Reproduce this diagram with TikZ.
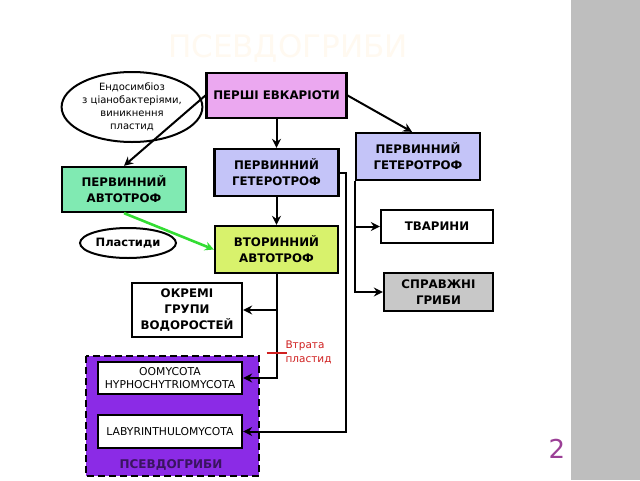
\documentclass[tikz,border=0pt]{standalone}
\usepackage{fontspec}
\setmainfont{DejaVu Sans}
\usetikzlibrary{shapes}
\usetikzlibrary{arrows.meta}
\definecolor{orchidpink}{HTML}{EBA8F0}
\definecolor{mintgreen}{HTML}{80EAB2}
\definecolor{lavender}{HTML}{C4C4F8}
\definecolor{limeyellow}{HTML}{D8F26C}
\definecolor{fungigray}{HTML}{C8C8C8}
\definecolor{pseudoviolet}{HTML}{8B2BE6}
\definecolor{darkplum}{HTML}{3A1460}
\definecolor{lossred}{HTML}{D02020}
\definecolor{slidenum}{HTML}{9B3F96}
\definecolor{titlecream}{HTML}{FFF9F0}
\definecolor{plastidgreen}{HTML}{33DD33}
\definecolor{stripgray}{HTML}{BEBEBE}

\begin{document}
\begin{tikzpicture}[x=1pt, y=-1pt,
    box/.style={draw, line width=2.3pt, align=center, inner sep=0pt,
        font=\fontsize{11.8}{16}\selectfont\bfseries},
    oval/.style={draw, ellipse, line width=2pt, align=center, inner sep=0pt},
    arr/.style={-{Stealth[length=9pt, width=9pt, inset=3pt]}, line width=2pt},
    taxon/.style={draw, fill=white, line width=2.3pt, minimum width=144pt,
        inner sep=0pt, align=center, font=\fontsize{10.8}{13}\selectfont}]

        \useasboundingbox (0,0) rectangle (640,480);

        % slide background
        \fill[white] (0,0) rectangle (640,480);
        \fill[stripgray] (571,0) rectangle (640,480);
        \node (title) at (288,48) {\fontsize{31}{31}\selectfont\color{titlecream}ПСЕВДОГРИБИ};
        \node (pagenum) at (557,449) {\fontsize{26}{26}\selectfont\color{slidenum}2};

        % first eukaryotes
        \node[box, fill=orchidpink, minimum width=140pt, minimum height=45pt]
            (eukar) at (276.5,95.5) {ПЕРШІ ЕВКАРІОТИ};
        \node[oval, fill=white, minimum width=104pt, minimum height=70pt,
            font=\fontsize{10}{13}\selectfont]
            (endosym) at (132,107) {Ендосимбіоз\\з ціанобактеріями,\\виникнення\\пластид};

        % primary types
        \node[box, fill=mintgreen, minimum width=124pt, minimum height=45pt]
            (primauto) at (124,189.5) {ПЕРВИННИЙ\\АВТОТРОФ};
        \node[box, fill=lavender, minimum width=124pt, minimum height=47pt]
            (primhet) at (276.5,172.5) {ПЕРВИННИЙ\\ГЕТЕРОТРОФ};
        \node[box, fill=lavender, minimum width=124pt, minimum height=47pt]
            (primhetr) at (418,156.5) {ПЕРВИННИЙ\\ГЕТЕРОТРОФ};

        % right branch
        \node[box, fill=white, minimum width=112pt, minimum height=33pt]
            (animals) at (437,226.5) {ТВАРИНИ};
        \node[box, fill=fungigray, minimum width=109pt, minimum height=38pt]
            (truefungi) at (438.5,292) {СПРАВЖНІ\\ГРИБИ};

        % secondary autotroph
        \node[oval, fill=white, minimum width=96pt, minimum height=30pt,
            font=\fontsize{11.5}{13}\selectfont\bfseries]
            (plastids) at (128,243) {Пластиди};
        \node[box, fill=limeyellow, minimum width=123pt, minimum height=47pt]
            (secauto) at (276.5,249.5) {ВТОРИННИЙ\\АВТОТРОФ};
        \node[box, fill=white, minimum width=110pt, minimum height=54pt]
            (algae) at (187,310) {ОКРЕМІ\\ГРУПИ\\ВОДОРОСТЕЙ};

        % pseudofungi group
        \filldraw[fill=pseudoviolet, dash pattern=on 7pt off 4pt, line width=2.5pt]
            (86,356) rectangle (259,476);
        \node[taxon, minimum height=32pt] (oomy) at (170,378) {OOMYCOTA\\HYPHOCHYTRIOMYCOTA};
        \node[taxon, minimum height=33pt] (laby) at (170,431.5) {LABYRINTHULOMYCOTA};
        \node[font=\fontsize{12}{12}\selectfont\bfseries, text=darkplum]
            (pseudo) at (171,465) {ПСЕВДОГРИБИ};

        % connectors
        \draw[arr] (eukar.west) -- (primauto.north);
        \draw[arr] (eukar.south) -- (primhet.north);
        \draw[arr] (eukar.east) -- ([xshift=-6pt]primhetr.north);
        \draw[arr] (primhet.south) -- (secauto.north);
        \draw[arr, plastidgreen, line width=2.6pt] (primauto.south) -- (secauto.west);
        \draw[arr] (secauto.south) |- (oomy.east);
        \draw[arr] (secauto.south |- algae.east) -- (algae.east);
        \coordinate (hetbend) at ([xshift=6pt]primhet.east);
        \draw[arr] (primhet.east) -- (hetbend) |- (laby.east);
        \draw[arr] (primhetr.south west) |- (animals.west);
        \draw[arr] (primhetr.south west) |- (truefungi.west);

        % plastid loss
        \coordinate (loss) at (secauto.south |- 0,353);
        \draw[lossred, line width=2pt] ([xshift=-10pt]loss) -- ([xshift=10pt]loss);
        \node[align=left, text=lossred, font=\fontsize{10.5}{14}\selectfont, anchor=west]
            (losstext) at (282,352) {Втрата\\пластид};

\end{tikzpicture}
\end{document}
